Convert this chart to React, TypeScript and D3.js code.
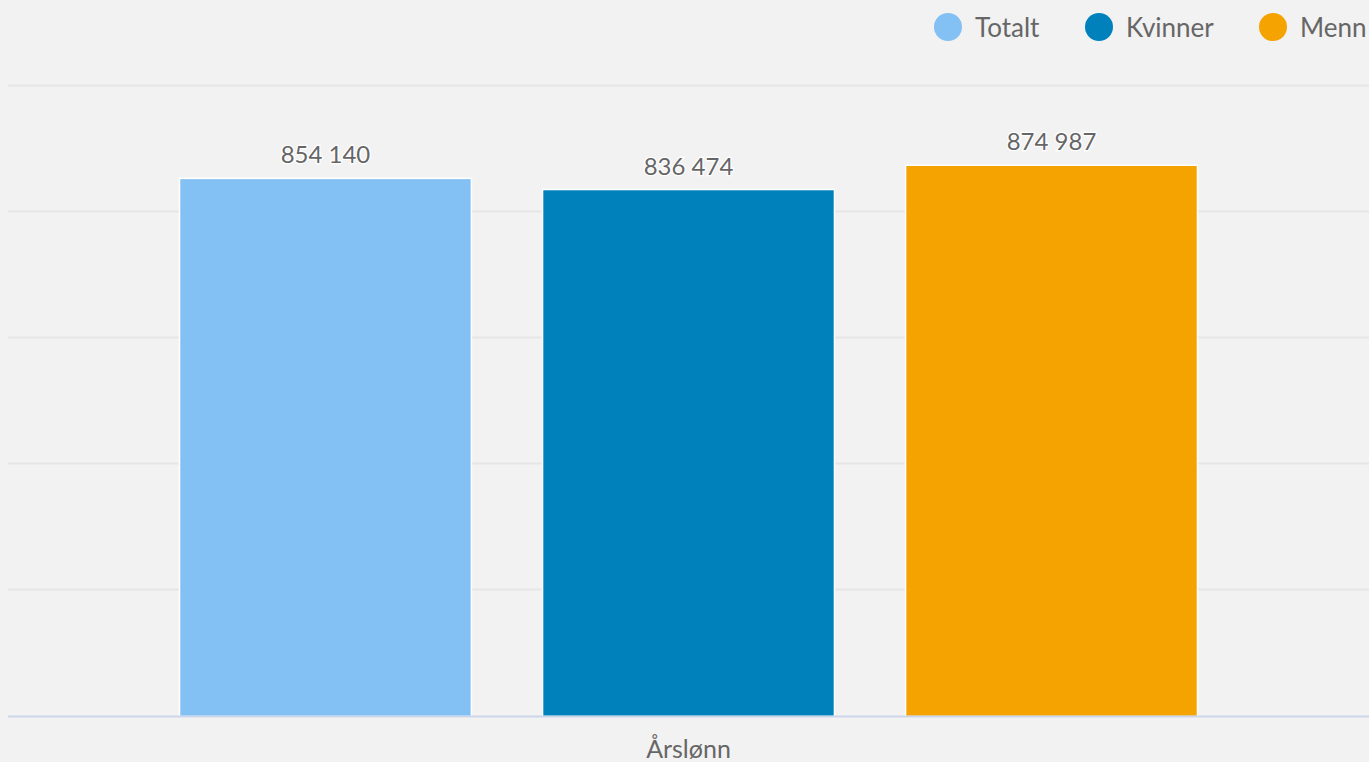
import React, { useRef, useEffect } from 'react';
import * as d3 from 'd3';

const categories = ['Årslønn'];
const seriesNames = ['Totalt', 'Kvinner', 'Menn'];
const seriesColors = ['#83c0f4', '#0081bc', '#f4a300'];
const values = [854140, 836474, 874987];
const gridTicks = [0, 200000, 400000, 600000, 800000, 1000000];

const W = 1369;
const H = 762;
const FONT = 'Lato, "Open Sans", sans-serif';

const fmt = (v: number) => d3.format(',')(v).replace(/,/g, ' ');

const App: React.FC = () => {
    const svgRef = useRef<SVGSVGElement>(null);

    useEffect(() => {
        document.body.style.margin = '0';
        document.body.style.background = '#f2f2f2';
        if (!svgRef.current) return;
        const svg = d3.select(svgRef.current);
        svg.selectAll('*').remove();

        const plotLeft = 8, plotRight = W, plotTop = 86.5, plotBottom = 716.5;

        const y = d3.scaleLinear().domain([0, 1000000]).range([plotBottom, plotTop]);
        const x0 = d3.scaleBand().domain(categories).range([plotLeft, plotRight]).paddingOuter(0.1685).paddingInner(0);
        const x1 = d3.scaleBand().domain(seriesNames).range([0, x0.bandwidth()]).paddingInner(0.196).paddingOuter(0);

        svg.append('rect').attr('width', W).attr('height', H).attr('fill', '#f2f2f2');

        // grid
        svg.append('g').selectAll('line')
            .data(gridTicks.slice(1))
            .join('line')
            .attr('x1', plotLeft).attr('x2', plotRight)
            .attr('y1', d => Math.floor(y(d)) - 0.5).attr('y2', d => Math.floor(y(d)) - 0.5)
            .attr('stroke', '#e6e6e6').attr('stroke-width', 2);

        // bars
        const g = svg.append('g');
        categories.forEach(cat => {
            seriesNames.forEach((s, i) => {
                const bx = (x0(cat) ?? 0) + (x1(s) ?? 0);
                const by = y(values[i]);
                g.append('rect')
                    .attr('x', bx).attr('y', by)
                    .attr('width', x1.bandwidth()).attr('height', plotBottom - by)
                    .attr('fill', seriesColors[i])
                    .attr('stroke', '#ffffff').attr('stroke-width', 1.5);
                g.append('text')
                    .attr('x', bx + x1.bandwidth() / 2).attr('y', by - 15)
                    .attr('text-anchor', 'middle')
                    .attr('font-family', FONT).attr('font-size', 24)
                    .attr('fill', '#666666')
                    .attr('stroke', '#ffffff').attr('stroke-width', 2.5)
                    .attr('paint-order', 'stroke')
                    .text(fmt(values[i]));
            });
        });

        // baseline
        svg.append('line')
            .attr('x1', plotLeft).attr('x2', plotRight)
            .attr('y1', 716.5).attr('y2', 716.5)
            .attr('stroke', '#ccd6eb').attr('stroke-width', 2);

        // x label
        categories.forEach(cat => {
            svg.append('text')
                .attr('x', (x0(cat) ?? 0) + x0.bandwidth() / 2).attr('y', 758)
                .attr('text-anchor', 'middle')
                .attr('font-family', FONT).attr('font-size', 25)
                .attr('fill', '#666666')
                .text(cat);
        });

        // legend
        const legendX = [948, 1099, 1273];
        const leg = svg.append('g');
        seriesNames.forEach((s, i) => {
            leg.append('circle').attr('cx', legendX[i]).attr('cy', 27).attr('r', 14).attr('fill', seriesColors[i]);
            leg.append('text')
                .attr('x', legendX[i] + 27).attr('y', 37)
                .attr('font-family', FONT).attr('font-size', 26)
                .attr('fill', '#666666')
                .text(s);
        });
    }, []);

    return <svg ref={svgRef} width={W} height={H} style={{ display: 'block' }} />;
};

export default App;
